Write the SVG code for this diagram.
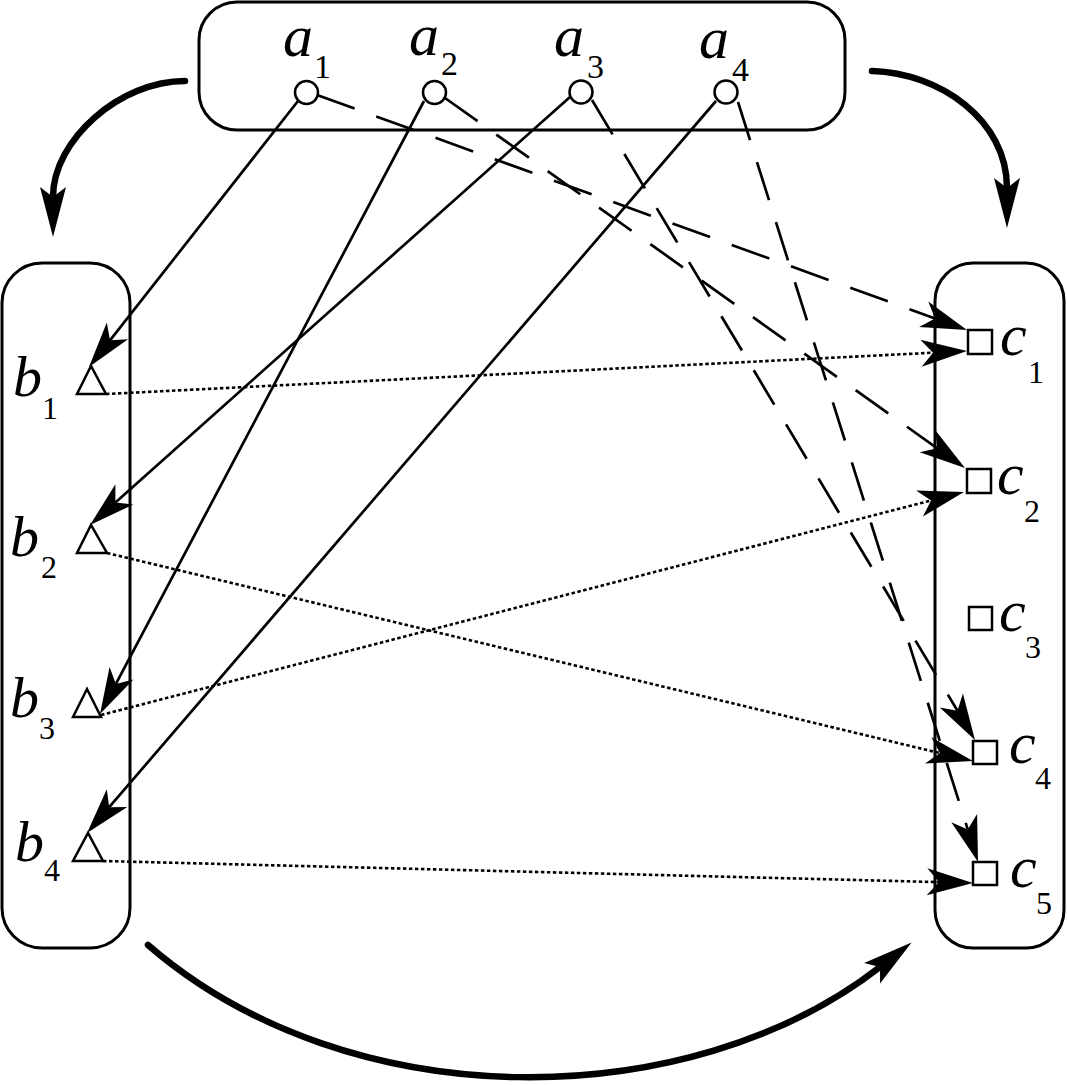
<svg xmlns="http://www.w3.org/2000/svg" width="1067" height="1085" viewBox="0 0 1067 1085">
<style>
.box{fill:none;stroke:#000;stroke-width:3}
.node{fill:#fff;stroke:#000;stroke-width:2.5}
.sol{fill:none;stroke:#000;stroke-width:2.7;marker-end:url(#ah)}
.dash{fill:none;stroke:#000;stroke-width:2.7;stroke-dasharray:40 23;marker-end:url(#ah)}
.dot{fill:none;stroke:#000;stroke-width:2.6;stroke-dasharray:3.5 2.5;marker-end:url(#ah)}
.big{fill:none;stroke:#000;stroke-width:6.5;stroke-linecap:round;marker-end:url(#bh)}
.v{font-family:"Liberation Serif","Times New Roman",serif;font-style:italic}
.s{font-family:"Liberation Serif","Times New Roman",serif}
</style>
<defs>
<marker id="ah" markerUnits="userSpaceOnUse" viewBox="-14 -15 50 30" markerWidth="50" markerHeight="30" refX="0" refY="0" orient="auto">
<path d="M34,0 L-12,-13.5 L0,0 L-12,13.5 Z" fill="#000"/>
</marker>
<marker id="bh" markerUnits="userSpaceOnUse" viewBox="-14 -15 58 30" markerWidth="58" markerHeight="30" refX="0" refY="0" orient="auto">
<path d="M40,0 L-10,-13 L0,0 L-10,13 Z" fill="#000"/>
</marker>
</defs>

<g id="containers">
<rect id="groupA" class="box" x="199" y="2" width="646" height="128" rx="38" ry="38"/>
<rect id="groupB" class="box" x="2" y="263" width="128" height="685" rx="40" ry="40"/>
<rect id="groupC" class="box" x="935" y="263" width="129" height="685" rx="38" ry="38"/>
</g>

<g id="connectors">
<path class="big" d="M185,81 C120,81 53,140 53,197"/>
<path class="big" d="M872,71 C940,73 1007,120 1007,188"/>
<path class="big" d="M148,945 C350,1120 690,1115 880,967"/>

<line class="sol" x1="298" y1="101" x2="110.0" y2="340.3"/>
<line class="sol" x1="424" y1="101" x2="115.9" y2="683.9"/>
<line class="sol" x1="570" y1="97" x2="115.4" y2="502.4"/>
<line class="sol" x1="716" y1="101" x2="109.2" y2="807.2"/>

<line class="dash" x1="317" y1="95" x2="935.0" y2="318.4"/>
<line class="dash" x1="445" y1="98" x2="937.3" y2="448.3"/>
<line class="dash" x1="592" y1="100" x2="957.5" y2="710.8"/>
<line class="dash" x1="738" y1="102" x2="967.8" y2="829.6"/>

<line class="dot" x1="106" y1="394" x2="933.0" y2="352.7"/>
<line class="dot" x1="107" y1="553" x2="939.9" y2="753.1"/>
<line class="dot" x1="101" y1="715" x2="931.1" y2="500.5"/>
<line class="dot" x1="103" y1="861" x2="939.0" y2="882.1"/>
</g>

<g fill="#000">
<g id="a1"><circle class="node" cx="306.5" cy="92.5" r="11.5"/><text class="v" x="283" y="56" font-size="60">a</text><text class="s" x="314" y="78" font-size="34">1</text></g>
<g id="a2"><circle class="node" cx="434.5" cy="92.5" r="11.5"/><text class="v" x="409" y="55" font-size="60">a</text><text class="s" x="441" y="75" font-size="34">2</text></g>
<g id="a3"><circle class="node" cx="581" cy="92" r="11.5"/><text class="v" x="554" y="56" font-size="60">a</text><text class="s" x="587" y="78" font-size="34">3</text></g>
<g id="a4"><circle class="node" cx="726" cy="92" r="11.5"/><text class="v" x="699" y="58" font-size="60">a</text><text class="s" x="732" y="81" font-size="34">4</text></g>

<g id="b1"><polygon class="node" points="77,394 106,394 91,366"/><text class="v" x="13" y="396" font-size="58">b</text><text class="s" x="42" y="419" font-size="32">1</text></g>
<g id="b2"><polygon class="node" points="77,553 107,553 91,525"/><text class="v" x="10" y="556" font-size="58">b</text><text class="s" x="41" y="578" font-size="32">2</text></g>
<g id="b3"><polygon class="node" points="73,717 101,717 87,689"/><text class="v" x="10" y="717" font-size="58">b</text><text class="s" x="39" y="739" font-size="32">3</text></g>
<g id="b4"><polygon class="node" points="73,861 103,861 88,833"/><text class="v" x="15" y="861" font-size="58">b</text><text class="s" x="44" y="881" font-size="32">4</text></g>

<g id="c1"><rect class="node" x="968" y="330" width="24" height="24"/><text class="v" x="1000" y="355" font-size="60">c</text><text class="s" x="1028" y="383" font-size="32">1</text></g>
<g id="c2"><rect class="node" x="967" y="469" width="24" height="24"/><text class="v" x="997" y="494" font-size="60">c</text><text class="s" x="1024" y="522" font-size="32">2</text></g>
<g id="c3"><rect class="node" x="969" y="607" width="23" height="23"/><text class="v" x="999" y="631" font-size="60">c</text><text class="s" x="1025" y="658" font-size="32">3</text></g>
<g id="c4"><rect class="node" x="973" y="741" width="24" height="23"/><text class="v" x="1009" y="763" font-size="60">c</text><text class="s" x="1035" y="789" font-size="32">4</text></g>
<g id="c5"><rect class="node" x="973" y="862" width="24" height="23"/><text class="v" x="1010" y="887" font-size="60">c</text><text class="s" x="1036" y="914" font-size="32">5</text></g>
</g>
</svg>
